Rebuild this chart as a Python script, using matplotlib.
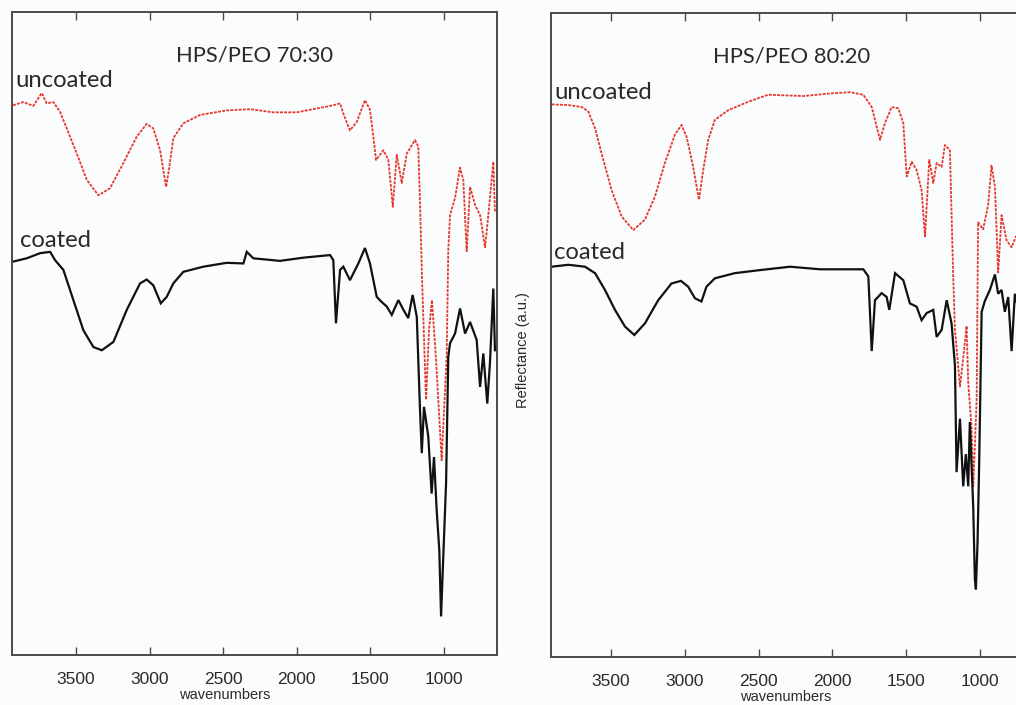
import matplotlib
matplotlib.use("Agg")
import matplotlib.pyplot as plt

# ---------------- data (wavenumber, reflectance a.u. 0-100) ----------------
wn_unc_7030 = [3928, 3858, 3790, 3733, 3699, 3654, 3609, 3563, 3495, 3427, 3348, 3269, 3179, 3088,
               3020, 2975, 2929, 2888, 2866, 2839, 2771, 2658, 2476, 2318, 2160, 2001, 1865, 1752,
               1706, 1684, 1639, 1593, 1537, 1503, 1480, 1462, 1412, 1378, 1348, 1321, 1287, 1253,
               1197, 1175, 1163, 1149, 1122, 1102, 1082, 1054, 1016, 982, 971, 959, 925, 891, 869,
               846, 823, 789, 755, 721, 699, 665, 654]
r_unc_7030 = [85.5, 86.0, 85.4, 87.4, 85.8, 86.0, 84.5, 81.9, 78.0, 73.9, 71.5, 72.6, 76.5, 80.6,
              82.6, 81.9, 78.5, 72.8, 75.9, 80.4, 82.7, 84.0, 84.7, 84.9, 84.4, 84.4, 85.0, 85.5,
              85.8, 84.2, 81.6, 82.9, 86.3, 84.8, 80.6, 77.0, 78.5, 77.0, 69.7, 77.8, 73.4, 78.0,
              80.1, 79.1, 70.3, 58.3, 39.7, 50.5, 55.2, 45.9, 30.3, 46.4, 63.0, 68.4, 71.1, 75.8, 73.9,
              62.8, 72.8, 70.0, 68.4, 63.4, 68.4, 76.7, 68.9]

wn_coat_7030 = [3926, 3835, 3744, 3676, 3642, 3586, 3518, 3450, 3382, 3325, 3246, 3155, 3065, 3020,
                2975, 2924, 2884, 2839, 2771, 2635, 2476, 2363, 2340, 2295, 2114, 1956, 1774, 1752,
                1734, 1706, 1684, 1639, 1582, 1537, 1503, 1457, 1423, 1389, 1355, 1310, 1276, 1243,
                1213, 1185, 1163, 1151, 1136, 1107, 1084, 1068, 1050, 1032, 1020, 1005, 986, 971,
                959, 925, 891, 857, 823, 778, 755, 733, 706, 688, 665, 654]
r_coat_7030 = [61.2, 61.7, 62.5, 62.7, 61.4, 59.9, 55.2, 50.5, 47.9, 47.4, 48.7, 53.7, 57.8, 58.4,
               57.5, 54.7, 55.7, 57.8, 59.6, 60.4, 61.0, 60.9, 62.7, 61.7, 61.3, 61.8, 62.2, 61.4,
               51.6, 59.9, 60.4, 58.3, 60.9, 63.3, 60.9, 55.7, 54.9, 54.2, 52.9, 55.2, 53.7, 52.4,
               56.0, 52.6, 38.1, 31.4, 38.6, 34.0, 25.1, 30.8, 22.6, 16.3, 6.0, 15.3, 26.7, 46.4,
               48.5, 50.0, 53.9, 50.0, 51.8, 49.0, 41.7, 46.9, 39.1, 45.4, 57.0, 47.4]

wn_unc_8020 = [3902, 3789, 3699, 3654, 3608, 3564, 3496, 3428, 3349, 3270, 3202, 3135, 3067, 3022,
               2988, 2943, 2904, 2875, 2841, 2796, 2706, 2571, 2435, 2196, 2016, 1880, 1790, 1733,
               1699, 1677, 1643, 1598, 1553, 1519, 1496, 1462, 1429, 1395, 1372, 1343, 1316, 1293,
               1259, 1237, 1203, 1181, 1169, 1135, 1113, 1090, 1079, 1056, 1045, 1022, 1012, 978,
               944, 921, 898, 876, 853, 819, 785, 756, 700, 645]
r_unc_8020 = [85.8, 85.7, 85.4, 84.7, 82.1, 78.2, 72.5, 68.4, 66.3, 67.9, 71.5, 76.7, 81.1, 82.6,
              80.8, 76.1, 71.0, 75.6, 80.3, 83.4, 84.9, 86.2, 87.3, 87.1, 87.5, 87.7, 87.3, 85.4,
              82.3, 80.3, 82.9, 85.4, 85.2, 82.9, 74.6, 76.9, 75.6, 72.5, 65.3, 77.2, 73.6, 76.7,
              76.1, 79.5, 78.7, 59.2, 50.9, 42.0, 46.4, 51.4, 42.6, 35.4, 26.5, 39.8, 67.5, 66.4,
              70.2, 76.3, 73.0, 59.7, 68.6, 64.7, 63.6, 65.3, 66.0, 64.0]

wn_coat_8020 = [3902, 3789, 3676, 3608, 3541, 3473, 3405, 3342, 3270, 3180, 3090, 3026, 2977, 2931,
                2887, 2853, 2796, 2661, 2481, 2286, 2083, 1790, 1756, 1733, 1711, 1666, 1632, 1614,
                1575, 1519, 1474, 1429, 1395, 1361, 1316, 1293, 1259, 1225, 1192, 1169, 1158, 1135,
                1113, 1095, 1079, 1068, 1045, 1034, 1027, 1016, 1005, 988, 966, 932, 898, 876, 853,
                831, 808, 785, 763, 700, 645]
r_coat_8020 = [60.6, 60.9, 60.6, 59.6, 57.0, 53.9, 51.3, 50.0, 51.8, 55.4, 58.0, 58.4, 57.5, 55.7,
               55.2, 57.5, 58.8, 59.6, 60.1, 60.6, 60.2, 60.2, 59.1, 47.5, 55.4, 56.5, 55.9, 53.9,
               59.6, 58.5, 54.9, 54.4, 52.3, 53.4, 53.9, 49.7, 50.8, 55.4, 51.8, 45.3, 28.7, 37.0,
               26.5, 31.5, 26.5, 36.5, 23.2, 12.1, 10.5, 17.7, 29.8, 53.6, 55.3, 57.0, 59.4, 56.4, 57.0,
               53.6, 55.9, 47.5, 56.4, 50.0, 52.0]

titles = ["HPS/PEO 70:30", "HPS/PEO 80:20"]
xticks = [3500, 3000, 2500, 2000, 1500, 1000]

# ---------------- styling ----------------
BG = "#fbfcfd"
RED = "#e5382c"
BLK = "#111111"
SPINE = "#4a4a4a"
TXT = "#2a2a2a"
LBL_FONT = ["Lato", "DejaVu Sans"]
TICK_FONT = ["Liberation Sans", "DejaVu Sans"]

fig = plt.figure(figsize=(10.16, 7.05), dpi=100, facecolor=BG)

panels = [
    dict(rect=[12/1016, 0.0709, 485/1016, 0.912], xlim=(3935, 640),
         wu=wn_unc_7030, ru=r_unc_7030, wc=wn_coat_7030, rc=r_coat_7030, title=titles[0],
         unc_xy=(0.006, 0.893), coat_xy=(0.016, 0.645), xl=0.439),
    dict(rect=[550.5/1016, 0.0681, 482.5/1016, 0.9135], xlim=(3910, 640),
         wu=wn_unc_8020, ru=r_unc_8020, wc=wn_coat_8020, rc=r_coat_8020, title=titles[1],
         unc_xy=(0.008, 0.877), coat_xy=(0.008, 0.628), xl=0.488),
]

for p in panels:
    ax = fig.add_axes(p["rect"])
    ax.set_facecolor(BG)
    ax.plot(p["wu"], p["ru"], color=RED, lw=1.3, dashes=(1.6, 0.7))
    ax.plot(p["wc"], p["rc"], color=BLK, lw=1.6, solid_joinstyle="miter")
    ax.set_xlim(*p["xlim"])
    ax.set_ylim(0, 100)
    ax.set_yticks([])
    ax.set_xticks(xticks)
    ax.set_xticklabels([str(t) for t in xticks], family=TICK_FONT, fontsize=12.5, color=TXT)
    ax.tick_params(axis="x", direction="in", top=True, bottom=True, length=6, width=1.0,
                   color=SPINE, pad=12)
    for s in ax.spines.values():
        s.set_color(SPINE)
        s.set_linewidth(1.4)
    ax.text(0.5, 0.933, p["title"], transform=ax.transAxes, ha="center", va="center",
            family=LBL_FONT, fontsize=15.8, color=TXT)
    ax.text(p["unc_xy"][0], p["unc_xy"][1], "uncoated", transform=ax.transAxes, ha="left",
            va="center", family=LBL_FONT, fontsize=17.2, color=TXT)
    ax.text(p["coat_xy"][0], p["coat_xy"][1], "coated", transform=ax.transAxes, ha="left",
            va="center", family=LBL_FONT, fontsize=17.2, color=TXT)
    ax.text(p["xl"], -0.062, "wavenumbers", transform=ax.transAxes, ha="center", va="center",
            family=TICK_FONT, fontsize=10.5, color=TXT)

fig.text(523/1016, 1 - 350/705, "Reflectance (a.u.)", rotation=90, ha="center", va="center",
         family=TICK_FONT, fontsize=10.5, color=TXT)

fig.savefig("out.png", dpi=100, facecolor=BG)
